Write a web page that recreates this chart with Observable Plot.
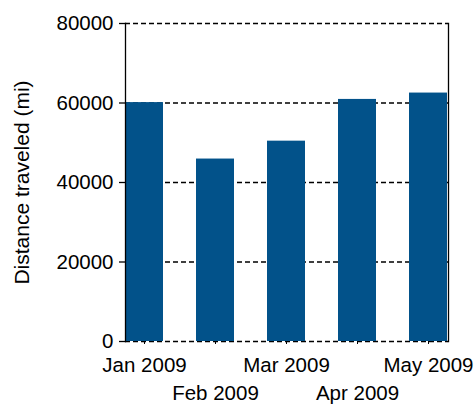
<!DOCTYPE html>
<html>
<head>
<meta charset="utf-8">
<script src="https://cdn.jsdelivr.net/npm/d3@7"></script>
<script src="https://cdn.jsdelivr.net/npm/@observablehq/plot@0.6"></script>
<style>
  html, body { margin: 0; padding: 0; background: #fff; }
  svg { font-family: Arial, "Liberation Sans", Helvetica, sans-serif; }
</style>
</head>
<body>
<div id="chart"></div>
<script>
const months = ["Jan 2009", "Feb 2009", "Mar 2009", "Apr 2009", "May 2009"];
const distances = [60100, 45900, 50400, 60900, 62500];
const yTicks = [0, 20000, 40000, 60000, 80000];
const topRowLabels = ["Jan 2009", "Mar 2009", "May 2009"];
const bottomRowLabels = ["Feb 2009", "Apr 2009"];
const yLabel = "Distance traveled (mi)";

const data = months.map((m, i) => ({month: m, distance: distances[i]}));

const chart = Plot.plot({
  width: 475,
  height: 407,
  marginLeft: 125,
  marginRight: 27,
  marginTop: 23,
  marginBottom: 66,
  style: {fontFamily: 'Arial, "Liberation Sans", Helvetica, sans-serif', fontSize: "20.5px", color: "#000", background: "#fff"},
  x: {domain: months, paddingInner: 0.46, paddingOuter: 0, axis: null},
  y: {domain: [0, 80000], axis: null},
  marks: [
    Plot.ruleY(yTicks, {stroke: "#000", strokeWidth: 1.3, strokeDasharray: "5,3"}),
    Plot.barY(data, {x: "month", y: "distance", fill: "#02528a"}),
    Plot.frame({anchor: "left", stroke: "#000", strokeWidth: 1.3}),
    Plot.frame({anchor: "right", stroke: "#000", strokeWidth: 1.3}),
    Plot.axisY(yTicks, {tickSize: 6, tickPadding: 6, tickFormat: d3.format("d"), fontSize: 20.5, label: null, strokeWidth: 1.3}),
    Plot.axisX(topRowLabels, {tickSize: 3, tickPadding: 13, fontSize: 20.5, label: null}),
    Plot.axisX(bottomRowLabels, {tickSize: 3, tickPadding: 41, fontSize: 20.5, label: null}),
    Plot.text([yLabel], {frameAnchor: "left", textAnchor: "middle", rotate: -90, dx: -103, fontSize: 21, fill: "#000"})
  ]
});
document.getElementById("chart").appendChild(chart);
</script>
</body>
</html>
